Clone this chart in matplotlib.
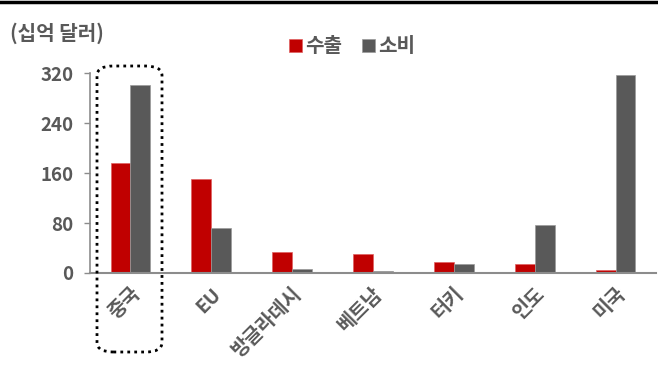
import numpy as np
import matplotlib.pyplot as plt
import matplotlib.transforms as mtransforms
from matplotlib.patches import FancyBboxPatch
from matplotlib.lines import Line2D

plt.rcParams['font.family'] = ['Noto Sans CJK KR', 'DejaVu Sans']

countries = ['중국', 'EU', '방글라데시', '베트남', '터키', '인도', '미국']
export = [176, 150, 33, 30, 18, 15, 5]
consume = [301, 72, 7, 4, 14, 77, 317]
yticks = [0, 80, 160, 240, 320]

red = '#C00000'
gray = '#595959'
txt = '#595959'

fig = plt.figure(figsize=(6.58, 3.82), dpi=100)
ax = fig.add_axes([90/658, 1-273/382, 566/658, (273-73.3)/382])

x = np.arange(len(countries))
w = 0.245
ax.bar(x - w/2, export, w, color=red, edgecolor='#e06060', linewidth=0.5, label='수출')
ax.bar(x + w/2, consume, w, color=gray, edgecolor='#9a9a9a', linewidth=0.5, label='소비')

ax.set_xlim(-0.5, len(countries) - 0.5)
ax.set_ylim(0, 320)
ax.set_yticks(yticks)
ax.set_yticklabels([str(v) for v in yticks], fontsize=13.5, fontweight='bold', color=txt)
ax.set_xticks(x)
ax.set_xticklabels(countries, rotation=45, ha='right', va='top', rotation_mode='anchor',
                   fontsize=14, fontweight='bold', color=txt)
shift = mtransforms.ScaledTranslation(8/100, 0, fig.dpi_scale_trans)
for lab in ax.get_xticklabels():
    lab.set_transform(lab.get_transform() + shift)
ax.tick_params(axis='x', length=0, pad=8)
ax.tick_params(axis='y', length=4, width=1, color='#8c8c8c', pad=8)
for s in ['top', 'right']:
    ax.spines[s].set_visible(False)
ax.spines['left'].set_color('#8c8c8c')
ax.spines['bottom'].set_color('#8c8c8c')
ax.spines['left'].set_linewidth(1.2)
ax.spines['bottom'].set_linewidth(1.5)

# top border line
fig.add_artist(Line2D([0, 1], [1 - 1.5/382, 1 - 1.5/382], color='black', linewidth=2.5))

fig.text(10/658, 1-33/382, '(십억 달러)', fontsize=14.5, fontweight='bold', color=txt,
         va='center', ha='left')

leg = ax.legend(loc='center', bbox_to_anchor=(352/658, 1-46/382), bbox_transform=fig.transFigure,
                ncol=2, frameon=False, handlelength=0.65, handleheight=0.65,
                handletextpad=0.15, columnspacing=1.0, prop={'weight': 'bold', 'size': 14.5})
for t in leg.get_texts():
    t.set_color(txt)

# dotted box around China
box = FancyBboxPatch((97/658, 1-352/382), (162-97)/658, (352-66)/382,
                     boxstyle='round,pad=0,rounding_size=0.025',
                     transform=fig.transFigure, fill=False, edgecolor='black',
                     linestyle=(0, (1, 1.5)), linewidth=2)
fig.add_artist(box)

fig.savefig('out.png', dpi=100)
